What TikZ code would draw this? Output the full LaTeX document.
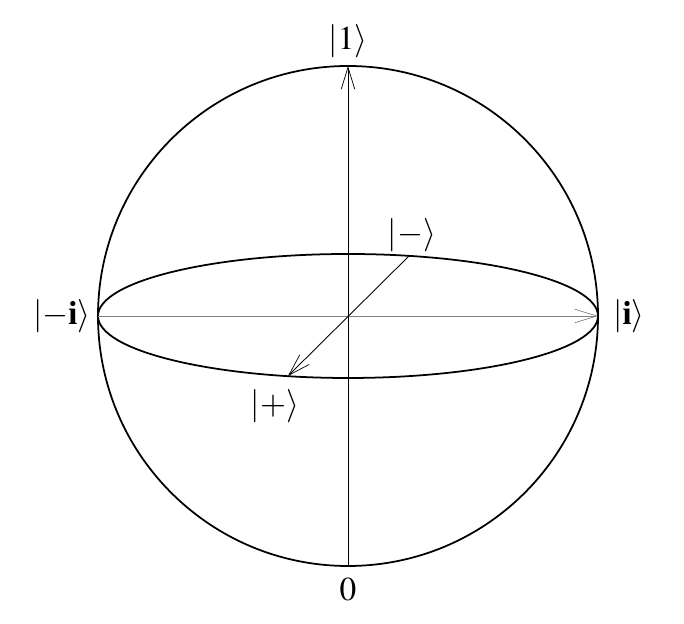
\documentclass[tikz,border=0pt]{standalone}
\usepackage{amsmath, amssymb}
\usepackage{mathptmx}
\usepackage{fontspec}
\setmainfont{Liberation Serif}
\usetikzlibrary{arrows.meta}

\begin{document}
\begin{tikzpicture}[x=.02cm, y=.02cm,
                    ax/.style={line width=.5pt, -{Straight Barb[length=.44cm, width=.27cm, line width=.4pt]}},
                    lbl/.style={font=\fontsize{19}{22}\selectfont, inner sep=1pt}]
  \useasboundingbox (-348,-308) rectangle (336,316);
  \coordinate (o) at (0,0);
  \coordinate (up) at (0,250);
  \coordinate (down) at (0,-250);
  \coordinate (left) at (-250,0);
  \coordinate (right) at (250,0);
  \coordinate (minus) at (61,60);
  \coordinate (plus) at (-60,-60);
  \draw[line width=1pt] (o) circle (250);
  \draw[line width=1pt] (o) ellipse (250 and 62);
  \draw[line width=.5pt] (down) -- (o);
  \draw[ax] (o) -- (up);
  \draw[ax, gray] (left) -- (right);
  \draw[ax] (minus) -- (plus);
  \node[lbl] (ket1) at (0,275) {$|1\rangle$};
  \node[lbl] (ket0) at (0,-274) {$0$};
  \node[lbl] (ketmi) at (-286,0) {$|{-}\mathbf{i}\rangle$};
  \node[lbl] (keti) at (281,0) {$|\mathbf{i}\rangle$};
  \node[lbl] (ketm) at (64,81) {$|-\rangle$};
  \node[lbl] (ketp) at (-73,-90) {$|+\rangle$};
\end{tikzpicture}
\end{document}
